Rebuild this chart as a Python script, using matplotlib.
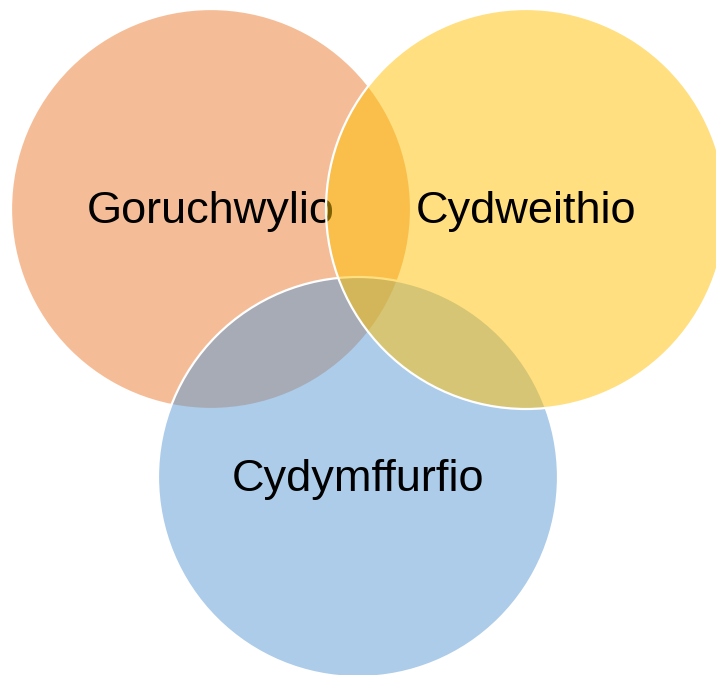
import matplotlib
matplotlib.use('Agg')
import matplotlib.pyplot as plt
from matplotlib.patches import Circle

# draw order matters: orange, then blue, then yellow on top
labels = ['Goruchwylio', 'Cydymffurfio', 'Cydweithio']
centre_x = [211, 358, 526]
centre_y = [209, 477, 209]
radius = [200, 200, 200]
colours = ['#ED7D31', '#5B9BD5', '#FFC000']

fig = plt.figure(figsize=(7.16, 6.75), dpi=100)
ax = fig.add_axes([0, 0, 1, 1])
ax.set_xlim(0, 716)
ax.set_ylim(675, 0)
ax.set_aspect('equal')
ax.axis('off')

for i, lab in enumerate(labels):
	c = Circle((centre_x[i], centre_y[i]), radius[i],
		facecolor=matplotlib.colors.to_rgba(colours[i], 0.5),
		edgecolor='white', linewidth=1.6, zorder=2 * i + 1)
	ax.add_patch(c)
	# small nudge down so the text sits like the original
	ax.text(centre_x[i], centre_y[i] + 3, lab, ha='center', va='center',
		fontsize=32.5, family='Liberation Sans', color='black', zorder=2 * i + 2)

fig.savefig('out.png', dpi=100)
